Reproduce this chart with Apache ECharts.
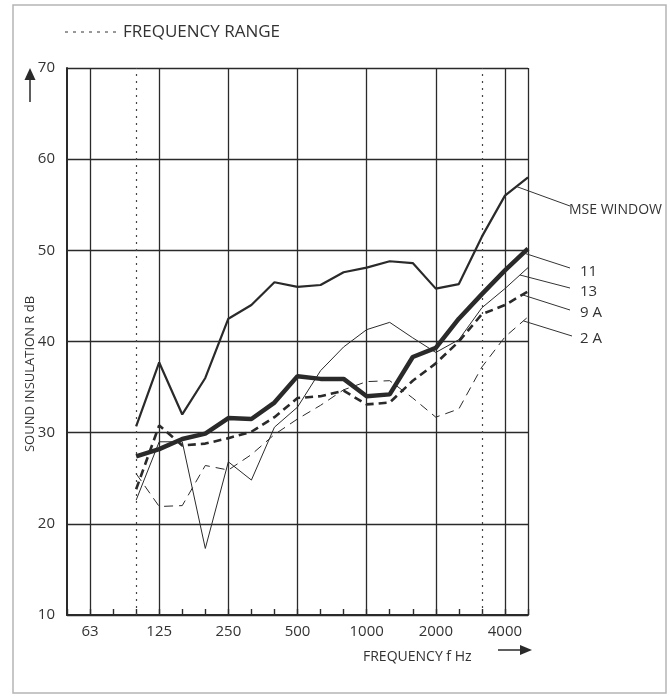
<!DOCTYPE html>
<html>
<head>
<meta charset="utf-8">
<script src="https://cdn.jsdelivr.net/npm/echarts@6/dist/echarts.min.js"></script>
<style>
  html, body { margin: 0; padding: 0; background: #fff; }
  #container { width: 670px; height: 697px; }
</style>
</head>
<body>
<div id="container"></div>
<script>
var dom = document.getElementById("container");
var chart = echarts.init(dom);

// third-octave bands shown on the axis (50 Hz .. 5000 Hz)
const bands = ["50", "63", "80", "100", "125", "160", "200", "250", "315", "400", "500",
    "630", "800", "1000", "1250", "1600", "2000", "2500", "3150", "4000", "5000"];
const octaveLabels = ["63", "125", "250", "500", "1000", "2000", "4000"];

// measured bands, 100 Hz .. 5000 Hz
const measured = ["100", "125", "160", "200", "250", "315", "400", "500", "630", "800",
    "1000", "1250", "1600", "2000", "2500", "3150", "4000", "5000"];

const mseWindow = [30.7, 37.7, 32.0, 36.0, 42.5, 44.0, 46.5, 46.0, 46.2, 47.6, 48.1, 48.8, 48.6, 45.8, 46.3, 51.5, 56.0, 58.0];
const window11 = [27.4, 28.2, 29.3, 29.9, 31.6, 31.5, 33.3, 36.2, 35.9, 35.9, 34.0, 34.2, 38.3, 39.3, 42.5, 45.2, 47.8, 50.2];
const window13 = [22.6, 29.0, 29.0, 17.3, 26.8, 24.8, 30.6, 32.8, 36.8, 39.4, 41.3, 42.1, 40.4, 38.8, 40.2, 43.7, 45.8, 48.1];
const window9A = [23.8, 30.8, 28.6, 28.8, 29.4, 30.1, 31.7, 33.8, 34.0, 34.6, 33.1, 33.3, 35.7, 37.6, 40.0, 43.0, 44.0, 45.5];
const window2A = [25.5, 21.9, 22.0, 26.4, 25.9, 27.6, 29.8, 31.5, 33.0, 34.7, 35.6, 35.7, 33.8, 31.7, 32.6, 37.2, 40.5, 42.7];

const rangeLimits = ["100", "3150"];

const ink = "#2a2a2a";
const font = "'Open Sans', sans-serif";
const yMin = 10;

function pairs(values) {
    return values.map(function (v, i) {
        return [measured[i], v];
    });
}

function isOctave(index) {
    return octaveLabels.indexOf(bands[index]) >= 0;
}

function lineSeries(name, values, width, dash) {
    return {
        name: name,
        type: "line",
        data: pairs(values),
        symbol: "none",
        silent: true,
        animation: false,
        lineStyle: { color: ink, width: width, type: dash || "solid" },
        z: 5,
    };
}

var series = [
    lineSeries("MSE WINDOW", mseWindow, 2.2),
    lineSeries("11", window11, 4.5),
    lineSeries("13", window13, 1),
    lineSeries("9 A", window9A, 2.6, [8, 5]),
    lineSeries("2 A", window2A, 1, [9, 6]),
];

// dotted verticals for the frequency range
series[0].markLine = {
    silent: true,
    symbol: "none",
    label: { show: false },
    animation: false,
    lineStyle: { color: "#444", width: 1.2, type: [2, 5] },
    data: rangeLimits.map(function (f) {
        return { xAxis: f };
    }),
};

var option = {
    animation: false,
    grid: { left: 67, right: 142, top: 68, bottom: 82 },
    xAxis: {
        type: "category",
        data: bands,
        boundaryGap: false,
        axisLine: { lineStyle: { color: ink, width: 2 } },
        axisTick: {
            show: true,
            inside: true,
            interval: 0,
            length: 6,
            lineStyle: { color: ink, width: 1.4 },
        },
        axisLabel: {
            interval: function (index) {
                return isOctave(index);
            },
            color: "#333",
            fontSize: 15,
            fontFamily: font,
            margin: 9,
        },
        splitLine: {
            show: true,
            interval: function (index) {
                return isOctave(index) || index === bands.length - 1;
            },
            lineStyle: { color: ink, width: 1.3 },
        },
    },
    yAxis: {
        type: "value",
        min: yMin,
        max: 70,
        interval: 10,
        axisLine: { show: true, lineStyle: { color: ink, width: 2 } },
        axisTick: { show: false },
        axisLabel: {
            color: "#333",
            fontSize: 15,
            fontFamily: font,
            margin: 12,
        },
        splitLine: { show: true, lineStyle: { color: ink, width: 1.3 } },
    },
    series: series,
};

chart.setOption(option);

// leader lines from the curves to the names on the right
function along(values, t) {
    var n = measured.length;
    var a = chart.convertToPixel({ seriesIndex: 0 }, [measured[n - 2], values[n - 2]]);
    var b = chart.convertToPixel({ seriesIndex: 0 }, [measured[n - 1], values[n - 1]]);
    return [a[0] + (b[0] - a[0]) * t, a[1] + (b[1] - a[1]) * t];
}

var leaders = [
    { text: "MSE WINDOW", values: mseWindow, t: 0.5, end: [570, 206], ty: 210 },
    { text: "11", values: window11, t: 0.8, end: [570, 268], ty: 272 },
    { text: "13", values: window13, t: 0.65, end: [570, 288], ty: 292 },
    { text: "9 A", values: window9A, t: 0.75, end: [570, 310], ty: 313 },
    { text: "2 A", values: window2A, t: 0.8, end: [572, 336], ty: 339 },
];

var elements = [
    // outer frame
    {
        type: "rect",
        shape: { x: 13, y: 5, width: 653, height: 688 },
        style: { fill: "none", stroke: "#b5b5b5", lineWidth: 1.5 },
        silent: true,
    },
    // frequency range key
    {
        type: "line",
        shape: { x1: 65, y1: 32, x2: 117, y2: 32 },
        style: { stroke: "#333", lineWidth: 1, lineDash: [3, 5] },
    },
    {
        type: "text",
        x: 123,
        y: 32,
        style: {
            text: "FREQUENCY RANGE",
            font: "17px 'Open Sans', sans-serif",
            fill: "#333",
            textVerticalAlign: "middle",
        },
    },
    // y arrow
    {
        type: "line",
        shape: { x1: 30, y1: 78, x2: 30, y2: 102 },
        style: { stroke: ink, lineWidth: 1.5 },
    },
    {
        type: "polygon",
        shape: { points: [[30, 68], [24.5, 80], [35.5, 80]] },
        style: { fill: ink },
    },
    // y axis title
    {
        type: "text",
        x: 30,
        y: 374,
        rotation: Math.PI / 2,
        style: {
            text: "SOUND INSULATION R dB",
            font: "13px 'Open Sans', sans-serif",
            fill: "#333",
            textAlign: "center",
            textVerticalAlign: "middle",
        },
    },
    // x axis title and arrow
    {
        type: "text",
        x: 363,
        y: 657,
        style: {
            text: "FREQUENCY f Hz",
            font: "14px 'Open Sans', sans-serif",
            fill: "#333",
            textVerticalAlign: "middle",
        },
    },
    {
        type: "line",
        shape: { x1: 498, y1: 650, x2: 522, y2: 650 },
        style: { stroke: ink, lineWidth: 1.5 },
    },
    {
        type: "polygon",
        shape: { points: [[532, 650], [520, 645], [520, 655]] },
        style: { fill: ink },
    },
];

leaders.forEach(function (l) {
    var p = along(l.values, l.t);
    elements.push({
        type: "line",
        shape: { x1: p[0], y1: p[1], x2: l.end[0], y2: l.end[1] },
        style: { stroke: "#333", lineWidth: 1 },
        z: 10,
    });
    elements.push({
        type: "text",
        x: l.text === "MSE WINDOW" ? 569 : 580,
        y: l.ty,
        style: {
            text: l.text,
            font: (l.text === "MSE WINDOW" ? "14px" : "15px") + " 'Open Sans', sans-serif",
            fill: "#333",
            textVerticalAlign: "middle",
        },
        z: 10,
    });
});

chart.setOption({ graphic: { elements: elements } });
</script>
</body>
</html>
